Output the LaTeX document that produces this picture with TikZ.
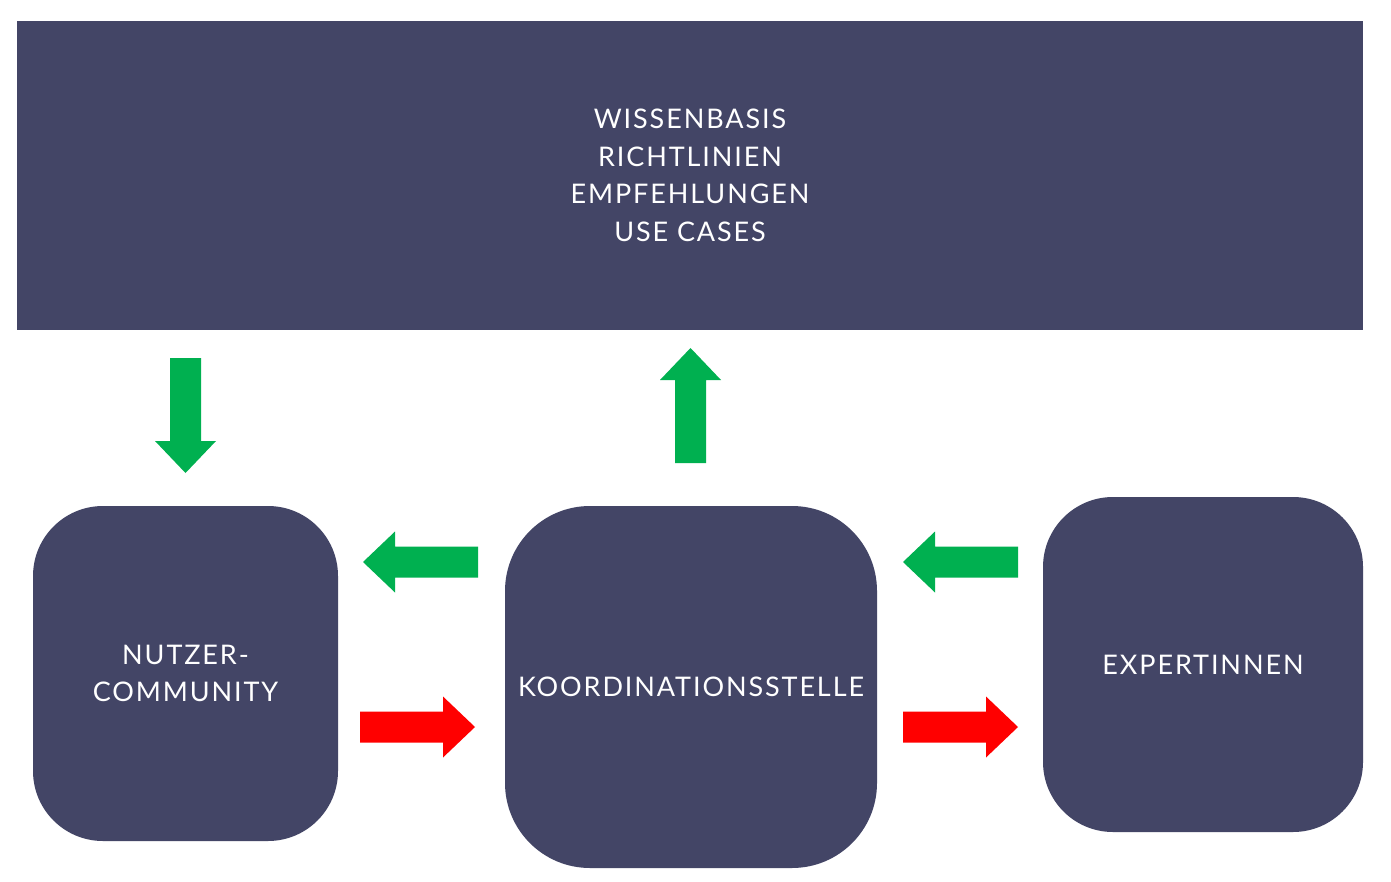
\documentclass[tikz,border=0pt]{standalone}
\usepackage{fontspec}
\setmainfont{Lato}[LetterSpace=7]
\usepackage{tikz}

\definecolor{slate}{HTML}{434566}
\definecolor{okgreen}{HTML}{00B050}
\definecolor{alertred}{HTML}{FF0000}

\newcommand{\blockarrow}[4]{%
\fill[#1,shift={(#2,#3)},rotate=#4] (0,-15.5) -- (83,-15.5) -- (83,-30.5) -- (115,0) -- (83,30.5) -- (83,15.5) -- (0,15.5) -- cycle ;}

\tikzset{
  box/.style={fill=slate,text=white,align=center,inner sep=0pt,font=\fontsize{27}{37.5}\selectfont},
}

\begin{document}
\begin{tikzpicture}[x=1pt,y=-1pt]

\useasboundingbox[fill=white] (0,0) rectangle (1391,882) ;

\node[box,minimum width=1346pt,minimum height=309pt] (wissen) at (690,175.5) {WISSENBASIS\\RICHTLINIEN\\EMPFEHLUNGEN\\USE CASES} ;
\node[box,rounded corners=70pt,minimum width=305pt,minimum height=335pt] (nutzer) at (185.5,673.5) {NUTZER-\\COMMUNITY} ;
\node[box,rounded corners=85pt,minimum width=372pt,minimum height=362pt] (koord) at (691,687) {KOORDINATIONSSTELLE} ;
\node[box,rounded corners=70pt,minimum width=320pt,minimum height=335pt] (experten) at (1203,664.5) {EXPERTINNEN} ;

\blockarrow{okgreen}{185.5}{358}{270}
\blockarrow{okgreen}{690.5}{463}{90}
\blockarrow{okgreen}{478}{562}{180}
\blockarrow{alertred}{360}{727}{0}
\blockarrow{okgreen}{1018}{562}{180}
\blockarrow{alertred}{903}{727}{0}

\end{tikzpicture}
\end{document}
